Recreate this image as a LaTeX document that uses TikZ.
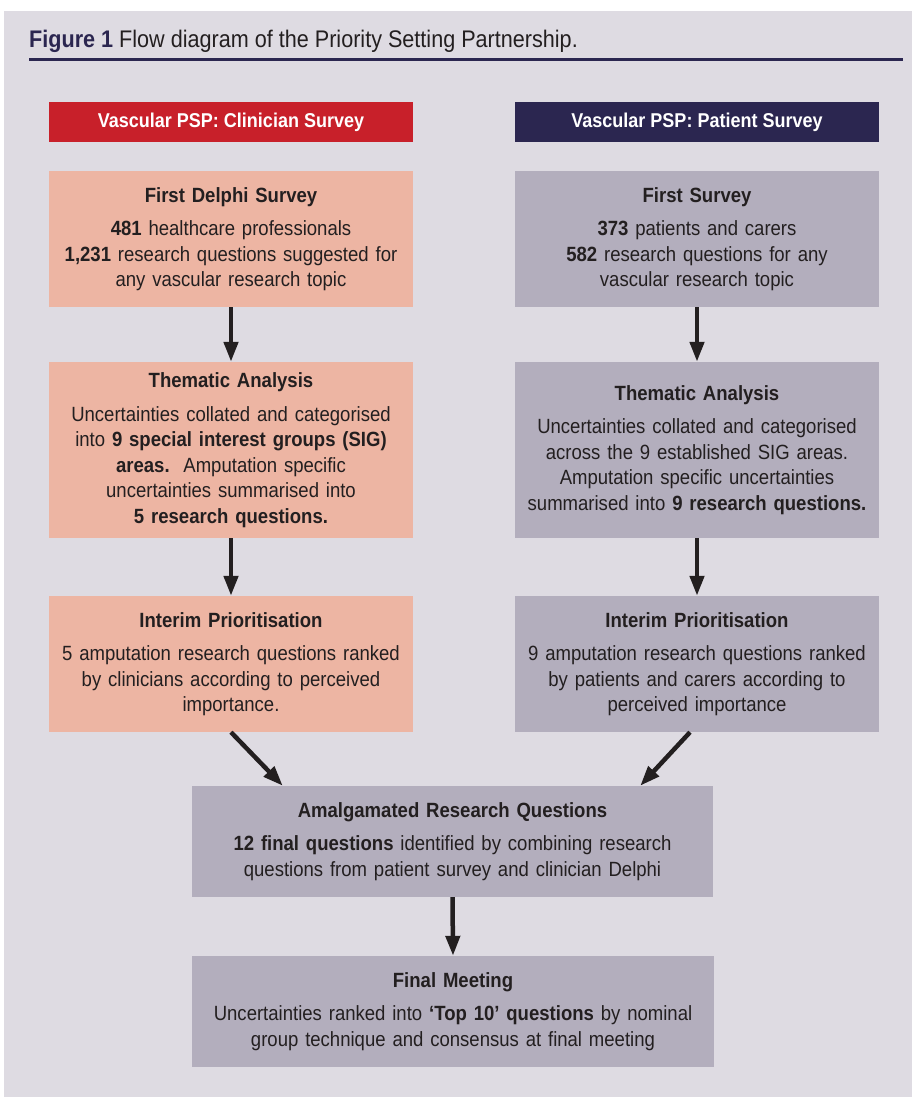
\documentclass[tikz,border=0pt]{standalone}
\usepackage{fontspec}
\setmainfont[FakeStretch=0.9]{Liberation Sans}
\usetikzlibrary{arrows.meta}

\definecolor{pagebg}{HTML}{DEDBE2}
\definecolor{salmon}{HTML}{EDB5A3}
\definecolor{lilac}{HTML}{B3AEBD}
\definecolor{clinred}{HTML}{C8202A}
\definecolor{patnavy}{HTML}{2B2650}
\definecolor{inkgrey}{HTML}{231F20}

\begin{document}
\begin{tikzpicture}[x=1pt, y=-1pt,
    box/.style={rectangle, minimum width=364pt, text width=356pt, align=center,
        inner sep=0pt, text=inkgrey, font=\fontsize{20.6}{25.5}\selectfont},
    clinbox/.style={box, fill=salmon},
    patbox/.style={box, fill=lilac},
    headbox/.style={rectangle, minimum width=364pt, minimum height=40pt, inner sep=0pt,
        text=white, font=\fontsize{20}{24}\selectfont\bfseries},
    flow/.style={-{Triangle[length=20pt,width=14pt]}, line width=4.5pt, draw=inkgrey}]

            % Page background and caption.
            \useasboundingbox (0,0) rectangle (912,1097);
            \fill[pagebg] (4,11) rectangle (912,1097);
            \node[anchor=base west, inner sep=0pt, text=inkgrey, font=\fontsize{24}{29}\selectfont]
                (caption) at (29,48) {\textcolor{patnavy}{\bfseries Figure 1} Flow diagram of the Priority Setting Partnership.};
            \draw[patnavy, line width=3pt] (29,60) -- (903,60);

            % The two column headings.
            \node[headbox, fill=clinred] (clinhead) at (231,122) {Vascular PSP: Clinician Survey};
            \node[headbox, fill=patnavy] (pathead) at (697,122) {Vascular PSP: Patient Survey};

            % Clinician column.
            \node[clinbox, minimum height=136pt] (clinsurvey) at (231,239)
                {\textbf{First Delphi Survey}\\[8pt]
                 \textbf{481} healthcare professionals\\
                 \textbf{1,231} research questions suggested for\\
                 any vascular research topic};
            \node[clinbox, minimum height=176pt] (clinthematic) at (231,450)
                {\textbf{Thematic Analysis}\\[8pt]
                 Uncertainties collated and categorised\\
                 into \textbf{9 special interest groups (SIG)}\\
                 \textbf{areas.}\ \ Amputation specific\\
                 uncertainties summarised into\\
                 \textbf{5 research questions.}};
            \node[clinbox, minimum height=136pt] (clininterim) at (231,664)
                {\textbf{Interim Prioritisation}\\[8pt]
                 5 amputation research questions ranked\\
                 by clinicians according to perceived\\
                 importance.};

            % Patient column.
            \node[patbox, minimum height=136pt] (patsurvey) at (697,239)
                {\textbf{First Survey}\\[8pt]
                 \textbf{373} patients and carers\\
                 \textbf{582} research questions for any\\
                 vascular research topic};
            \node[patbox, minimum height=176pt] (patthematic) at (697,450)
                {\textbf{Thematic Analysis}\\[8pt]
                 Uncertainties collated and categorised\\
                 across the 9 established SIG areas.\\
                 Amputation specific uncertainties\\
                 summarised into \textbf{9 research questions.}};
            \node[patbox, minimum height=136pt] (patinterim) at (697,664)
                {\textbf{Interim Prioritisation}\\[8pt]
                 9 amputation research questions ranked\\
                 by patients and carers according to\\
                 perceived importance};

            % Joint boxes at the bottom.
            \node[patbox, minimum width=521pt, text width=500pt, minimum height=111pt] (amalgam) at (452.5,841.5)
                {\textbf{Amalgamated Research Questions}\\[8pt]
                 \textbf{12 final questions} identified by combining research\\
                 questions from patient survey and clinician Delphi};
            \node[patbox, minimum width=522pt, text width=500pt, minimum height=111pt] (finalmeet) at (453,1011.5)
                {\textbf{Final Meeting}\\[8pt]
                 Uncertainties ranked into \textbf{`Top 10' questions} by nominal\\
                 group technique and consensus at final meeting};

            % Arrows down each column.
            \foreach \a/\b in {clinsurvey/clinthematic, clinthematic/clininterim,
                               patsurvey/patthematic, patthematic/patinterim, amalgam/finalmeet} {
                \draw[flow] (\a.south) -- (\b.north);
            }

            % The two columns meet in the amalgamated box.
            \draw[flow] (clininterim.south) -- ([xshift=91pt]amalgam.north west);
            \draw[flow] ([xshift=-7pt]patinterim.south) -- ([xshift=-73pt]amalgam.north east);
        \end{tikzpicture}
\end{document}
